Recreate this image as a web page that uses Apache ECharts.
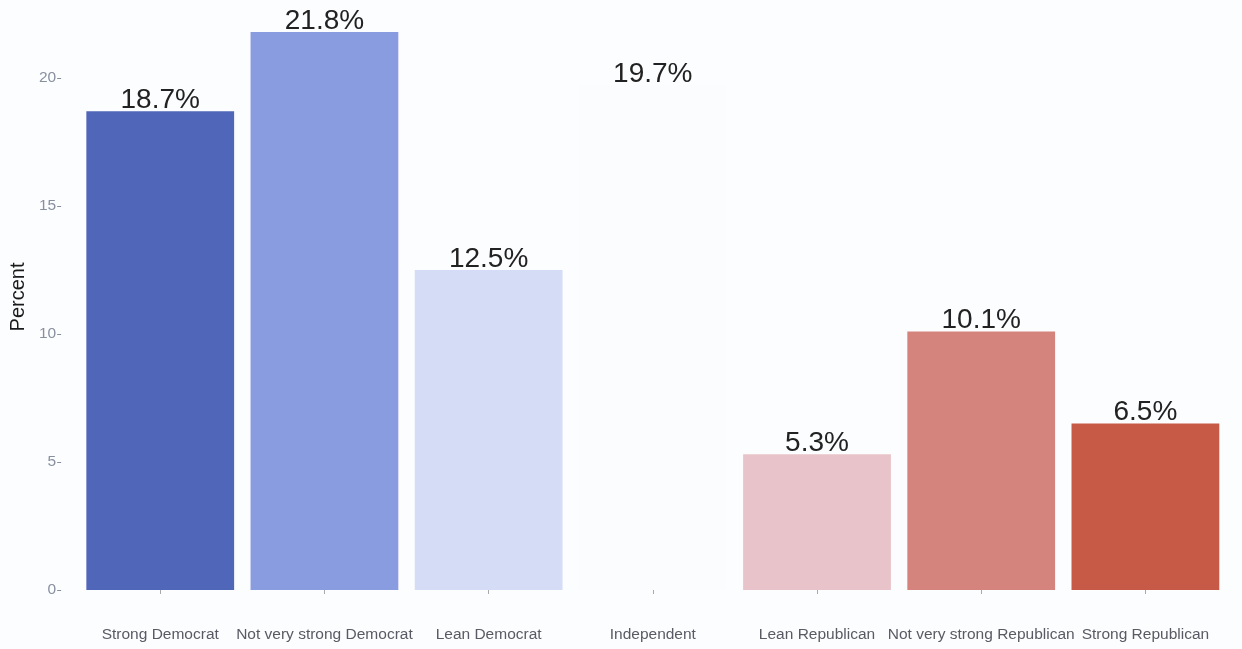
<!DOCTYPE html>
<html>
<head>
<meta charset="utf-8">
<script src="https://cdn.jsdelivr.net/npm/echarts@6/dist/echarts.min.js"></script>
<style>
  html, body { margin: 0; padding: 0; background: #fcfdfe; }
  #chart { width: 1242px; height: 649px; }
</style>
</head>
<body>
<div id="chart"></div>
<script>
// Party identification shares
const categories = [
  'Strong Democrat', 'Not very strong Democrat', 'Lean Democrat', 'Independent',
  'Lean Republican', 'Not very strong Republican', 'Strong Republican'
];
const percents = [18.7, 21.8, 12.5, 19.7, 5.3, 10.1, 6.5];
const barColors = ['#5066b9', '#8a9ce0', '#d4dcf6', '#fbfcfe', '#e8c3c9', '#d4847d', '#c75a47'];
const yTicks = [0, 5, 10, 15, 20];

const chart = echarts.init(document.getElementById('chart'), null, { renderer: 'canvas' });

const font = '"Liberation Sans", Arial, sans-serif';

chart.setOption({
  backgroundColor: '#fcfdfe',
  animation: false,
  grid: { left: 77.5, right: 14.5, top: 4, bottom: 59, containLabel: false },
  xAxis: {
    type: 'category',
    data: categories,
    offset: 28,
    axisLine: { show: false },
    axisTick: { show: true, length: 4, alignWithLabel: true, lineStyle: { color: '#aaa' } },
    axisLabel: {
      interval: 0, hideOverlap: false, margin: 9,
      color: '#5a5a64', fontFamily: font, fontSize: 15.5
    },
    splitLine: { show: false }
  },
  yAxis: {
    type: 'value',
    min: 0, max: 22.89, interval: 5,
    offset: 17,
    name: 'Percent',
    nameLocation: 'middle',
    nameGap: 21,
    nameTextStyle: { color: '#1a1a1a', fontFamily: font, fontSize: 20 },
    axisLine: { show: false },
    axisTick: { show: true, length: 4, customValues: yTicks, lineStyle: { color: '#8890a0' } },
    axisLabel: {
      margin: 5, color: '#8890a0', fontFamily: font, fontSize: 15.5,
      customValues: yTicks
    },
    splitLine: { show: false }
  },
  series: [{
    type: 'bar',
    barCategoryGap: '10%',
    data: percents.map((v, i) => ({ value: v, itemStyle: { color: barColors[i] } })),
    label: {
      show: true,
      position: 'top',
      distance: -3,
      color: '#222',
      fontFamily: font,
      fontSize: 28,
      formatter: p => p.value.toFixed(1) + '%'
    }
  }]
});
</script>
</body>
</html>
